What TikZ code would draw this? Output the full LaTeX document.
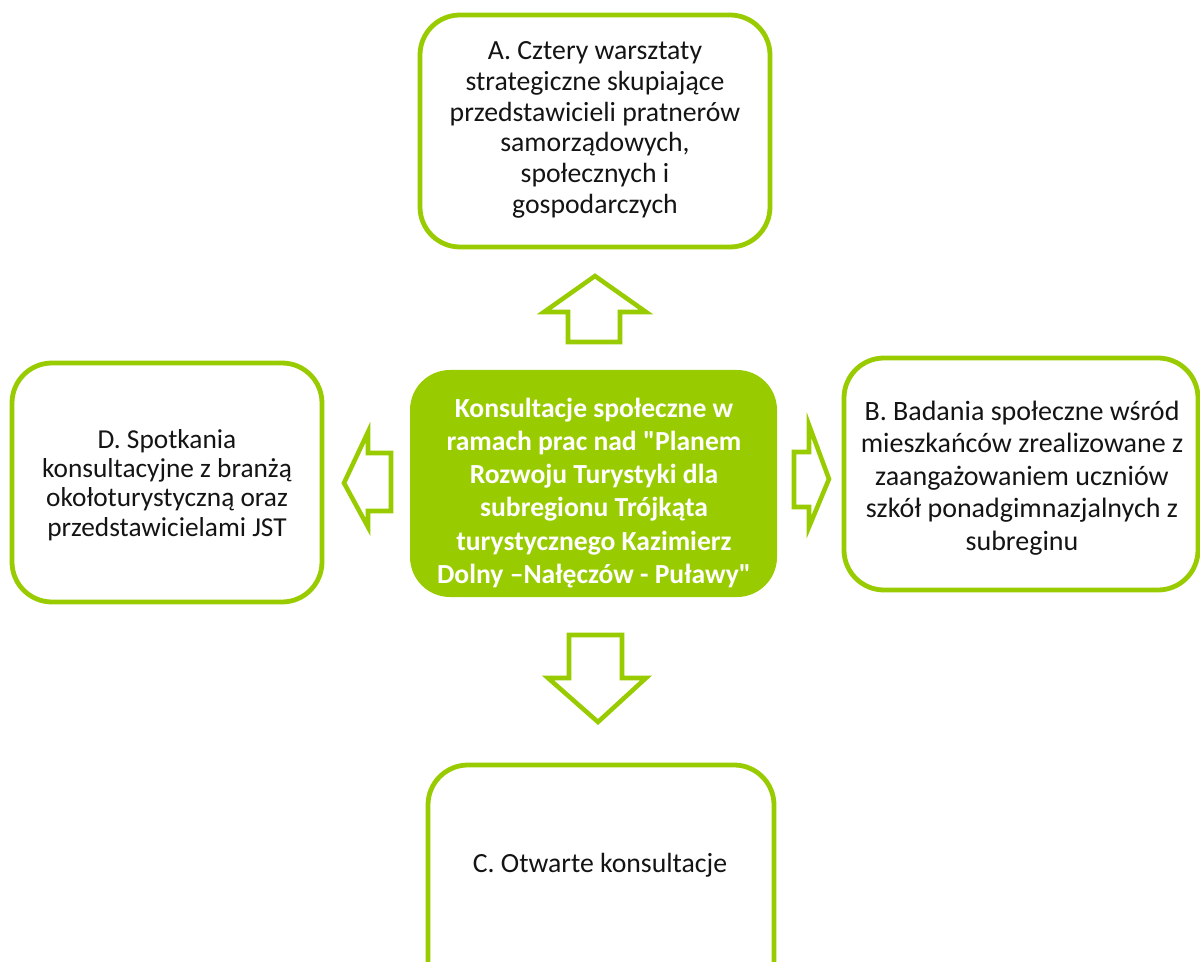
\documentclass[tikz,border=0pt]{standalone}
\usepackage{fontspec}
\setmainfont{Carlito}[Ligatures=TeXOff]
\definecolor{lime}{RGB}{153,204,0}
\definecolor{txt}{RGB}{20,20,20}
\begin{document}
\begin{tikzpicture}[x=0.75pt,y=-0.75pt,
  box/.style={draw=lime,line width=3.6pt,rounded corners=30pt,fill=white},
  boxtext/.style={align=center,text=txt,font=\fontsize{20.8}{23}\selectfont},
  arrowshape/.style={draw=lime,line width=3.4pt,fill=white,line join=miter}]
\useasboundingbox (0,0) rectangle (1200,962);
\begin{scope}
\clip (0,0) rectangle (1200,962);
% boxes
\draw[box] (420,15) rectangle (770,247);
\node[boxtext] (A) at (595,130) {A. Cztery warsztaty\\strategiczne skupiające\\przedstawicieli pratnerów\\samorządowych,\\społecznych i\\gospodarczych};
\draw[box] (12,363) rectangle (322,602);
\node[boxtext,font=\fontsize{20.5}{22}\selectfont] (D) at (167,485) {D. Spotkania\\konsultacyjne z branżą\\okołoturystyczną oraz\\przedstawicielami JST};
\draw[box] (844,358) rectangle (1198,590);
\node[boxtext,font=\fontsize{21}{24.4}\selectfont] (B) at (1022,478) {B. Badania społeczne wśród\\mieszkańców zrealizowane z\\zaangażowaniem uczniów\\szkół ponadgimnazjalnych z\\subreginu};
\draw[box] (428,765) rectangle (774,1010);
\node[boxtext] (C) at (600,865) {C. Otwarte konsultacje};
\fill[lime,rounded corners=30pt] (410,370) rectangle (777,597);
\node[align=center,text=white,font=\bfseries\fontsize{20.7}{24.8}\selectfont] (M) at (594,493) {Konsultacje społeczne w\\ramach prac nad "Planem\\Rozwoju Turystyki dla\\subregionu Trójkąta\\turystycznego Kazimierz\\Dolny –Nałęczów - Puławy"};
% arrows
\draw[arrowshape] (595,276) -- (646,312) -- (620,312) -- (620,342) -- (568,342) -- (568,312) -- (544,312) -- cycle;
\draw[arrowshape] (344,483) -- (368,432) -- (368,453) -- (391,453) -- (391,511) -- (368,511) -- (368,527) -- cycle;
\draw[arrowshape] (829,479) -- (809,425) -- (809,452) -- (794,452) -- (794,507) -- (809,507) -- (809,527) -- cycle;
\draw[arrowshape] (598,722) -- (548,678) -- (569,678) -- (569,635) -- (622,635) -- (622,678) -- (646,678) -- cycle;
\end{scope}
\end{tikzpicture}
\end{document}
